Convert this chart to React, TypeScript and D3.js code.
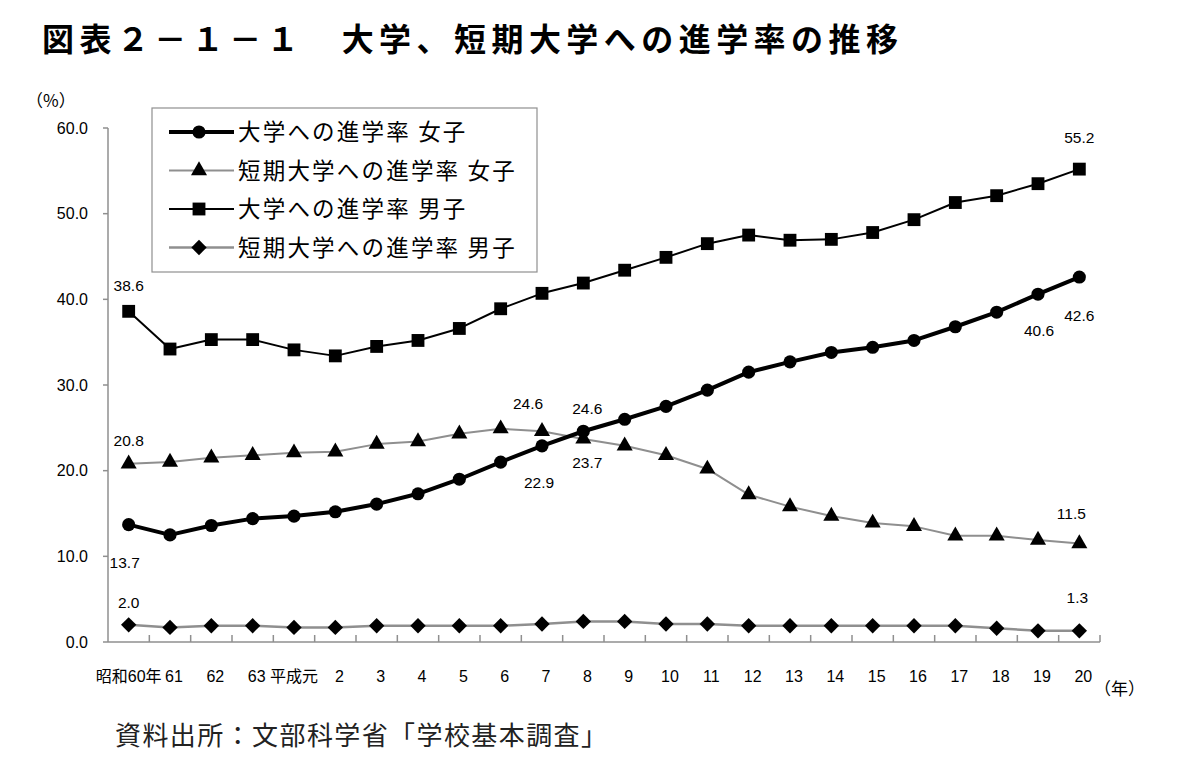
import React from "react";
import * as d3 from "d3";

// categories (年)
const years = [
  "昭和60年", "61", "62", "63", "平成元", "2", "3", "4", "5", "6", "7", "8",
  "9", "10", "11", "12", "13", "14", "15", "16", "17", "18", "19", "20",
];

// 進学率 (%)
const univFemale = [
  13.7, 12.5, 13.6, 14.4, 14.7, 15.2, 16.1, 17.3, 19.0, 21.0, 22.9, 24.6,
  26.0, 27.5, 29.4, 31.5, 32.7, 33.8, 34.4, 35.2, 36.8, 38.5, 40.6, 42.6,
];
const juniorFemale = [
  20.8, 21.0, 21.5, 21.8, 22.1, 22.2, 23.1, 23.4, 24.3, 24.9, 24.6, 23.7,
  22.9, 21.8, 20.2, 17.2, 15.8, 14.7, 13.9, 13.5, 12.4, 12.4, 11.9, 11.5,
];
const univMale = [
  38.6, 34.2, 35.3, 35.3, 34.1, 33.4, 34.5, 35.2, 36.6, 38.9, 40.7, 41.9,
  43.4, 44.9, 46.5, 47.5, 46.9, 47.0, 47.8, 49.3, 51.3, 52.1, 53.5, 55.2,
];
const juniorMale = [
  2.0, 1.7, 1.9, 1.9, 1.7, 1.7, 1.9, 1.9, 1.9, 1.9, 2.1, 2.4,
  2.4, 2.1, 2.1, 1.9, 1.9, 1.9, 1.9, 1.9, 1.9, 1.6, 1.3, 1.3,
];

const seriesNames = [
  "大学への進学率 女子",
  "短期大学への進学率 女子",
  "大学への進学率 男子",
  "短期大学への進学率 男子",
];

const yTicks = [0, 10, 20, 30, 40, 50, 60];

const title = "図表２－１－１　大学、短期大学への進学率の推移";
const source = "資料出所：文部科学省「学校基本調査」";

const GRAY = "#8f8f8f";
const LATIN = "'Liberation Sans', Arial, 'Noto Sans CJK JP', sans-serif";
const CJK = "'Noto Sans CJK JP', 'Noto Sans', sans-serif";

const series = [
  { name: seriesNames[0], values: univFemale, stroke: "#000", width: 4, symbol: d3.symbolCircle, size: 135, rotate: 0 },
  { name: seriesNames[1], values: juniorFemale, stroke: GRAY, width: 2, symbol: d3.symbolTriangle, size: 112, rotate: 0 },
  { name: seriesNames[2], values: univMale, stroke: "#000", width: 2, symbol: d3.symbolSquare, size: 165, rotate: 0 },
  { name: seriesNames[3], values: juniorMale, stroke: GRAY, width: 2.5, symbol: d3.symbolSquare, size: 118, rotate: 45 },
];

// which points carry a value label, and where the label sits relative to the point
const labelSpots = [
  { s: 2, i: 0, dx: 0, dy: -26 },
  { s: 1, i: 0, dx: 0, dy: -23 },
  { s: 0, i: 0, dx: -4, dy: 38 },
  { s: 3, i: 0, dx: 0, dy: -22 },
  { s: 1, i: 10, dx: -14, dy: -28 },
  { s: 0, i: 11, dx: 4, dy: -23 },
  { s: 0, i: 10, dx: -3, dy: 37 },
  { s: 1, i: 11, dx: 4, dy: 23 },
  { s: 0, i: 22, dx: 1, dy: 36 },
  { s: 0, i: 23, dx: 0, dy: 38 },
  { s: 2, i: 23, dx: 0, dy: -32 },
  { s: 1, i: 23, dx: -8, dy: -30 },
  { s: 3, i: 23, dx: -2, dy: -33 },
];

export default function App() {
  const width = 1200;
  const height = 769;
  const left = 108, right = 1100, top = 128, bottom = 642;

  const x = d3.scaleBand<string>().domain(years).range([left, right]).padding(0);
  const y = d3.scaleLinear().domain([0, 60]).range([bottom, top]);
  const cx = (i: number) => (x(years[i]) as number) + x.bandwidth() / 2;

  const line = d3
    .line<number>()
    .x((_, i) => cx(i))
    .y((d) => y(d));

  const drawOrder = [3, 1, 2, 0];

  const legendX = 152, legendY = 108;
  const rowGap = 38.5;

  return (
    <svg
      width={width}
      height={height}
      style={{ position: "absolute", left: 0, top: 0, background: "#fff" }}
    >
      <rect width={width} height={height} fill="#fff" />

      <text
        x={42}
        y={51}
        fontFamily={CJK}
        fontWeight="bold"
        fontSize={32}
        textLength={856}
        lengthAdjust="spacing"
        fill="#000"
      >
        {title}
      </text>

      {/* y axis */}
      <text x={26} y={101} dy="0.36em" fontFamily={CJK} fontSize={17} fill="#000">
        （%）
      </text>
      <line x1={left} x2={left} y1={top} y2={bottom} stroke={GRAY} strokeWidth={1.5} />
      {yTicks.map((t) => (
        <g key={t}>
          <line x1={left - 5} x2={left} y1={y(t)} y2={y(t)} stroke={GRAY} strokeWidth={1.5} />
          <text
            x={88}
            y={y(t)}
            dy="0.36em"
            textAnchor="end"
            fontFamily={LATIN}
            fontSize={16}
            fill="#000"
          >
            {t.toFixed(1)}
          </text>
        </g>
      ))}

      {/* x axis */}
      <line x1={left} x2={right} y1={bottom} y2={bottom} stroke={GRAY} strokeWidth={1.5} />
      {years.map((yr, i) => (
        <g key={yr}>
          <line
            x1={(x(yr) as number) + x.bandwidth()}
            x2={(x(yr) as number) + x.bandwidth()}
            y1={bottom}
            y2={bottom - 7}
            stroke={GRAY}
            strokeWidth={1.5}
          />
          <text
            x={cx(i) + (/^\d+$/.test(yr) ? 4 : 0)}
            y={676}
            dy="0.36em"
            textAnchor="middle"
            fontFamily={LATIN}
            fontSize={16}
            fill="#000"
          >
            {yr}
          </text>
        </g>
      ))}
      <text x={1094} y={689} dy="0.36em" fontFamily={CJK} fontSize={17} fill="#000">
        （年）
      </text>

      {/* series */}
      {drawOrder.map((si) => {
        const s = series[si];
        const sym = d3.symbol().type(s.symbol).size(s.size)() as string;
        return (
          <g key={s.name}>
            <path
              d={line(s.values) as string}
              fill="none"
              stroke={s.stroke}
              strokeWidth={s.width}
              strokeLinejoin="round"
            />
            {s.values.map((v, i) => (
              <path
                key={i}
                d={sym}
                transform={`translate(${cx(i)},${y(v)}) rotate(${s.rotate})`}
                fill="#000"
              />
            ))}
          </g>
        );
      })}

      {/* value labels */}
      {labelSpots.map((l, k) => {
        const v = series[l.s].values[l.i];
        return (
          <text
            key={k}
            x={cx(l.i) + l.dx}
            y={y(v) + l.dy}
            dy="0.36em"
            textAnchor="middle"
            fontFamily={LATIN}
            fontSize={15.5}
            fill="#000"
          >
            {v.toFixed(1)}
          </text>
        );
      })}

      {/* legend */}
      <rect
        x={legendX}
        y={legendY}
        width={385}
        height={164}
        fill="#fff"
        stroke={GRAY}
        strokeWidth={1.2}
      />
      {series.map((s, i) => {
        const ry = legendY + 24 + i * rowGap;
        const sym = d3.symbol().type(s.symbol).size(s.size)() as string;
        return (
          <g key={s.name}>
            <line x1={169} x2={234} y1={ry} y2={ry} stroke={s.stroke} strokeWidth={s.width} />
            <path d={sym} transform={`translate(199,${ry}) rotate(${s.rotate})`} fill="#000" />
            <text
              x={238}
              y={ry}
              dy="0.36em"
              fontFamily={CJK}
              fontSize={22.5}
              letterSpacing={2.2}
              fill="#000"
            >
              {s.name}
            </text>
          </g>
        );
      })}

      <text
        x={115}
        y={735}
        dy="0.38em"
        fontFamily={CJK}
        fontSize={26}
        textLength={492}
        lengthAdjust="spacing"
        fill="#222"
      >
        {source}
      </text>
    </svg>
  );
}
